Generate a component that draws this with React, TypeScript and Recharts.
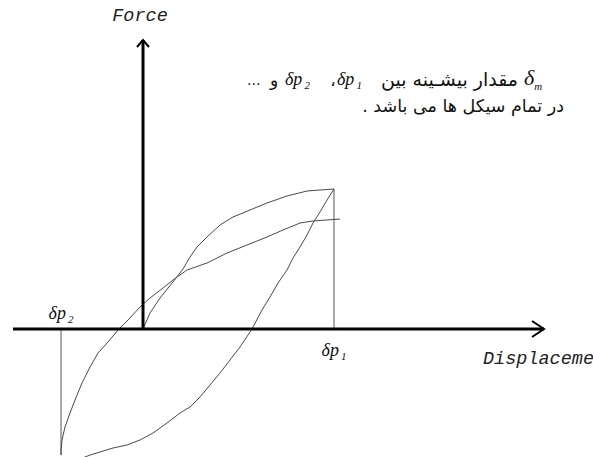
import { Customized, Line, LineChart, ReferenceLine, XAxis, YAxis } from "recharts"

// hysteresis loop (displacement / force in arbitrary units)
const loadingDisp = [0, 3.5, 8.5, 15, 20, 23.5, 27, 32, 38.5, 45, 53.5, 62, 72, 82, 88.5, 95.5]
const loadingForce = [0, 8, 15.5, 23.5, 30, 36, 41, 46, 52, 56, 59.5, 63, 66.5, 69, 69.5, 70]

const unloadingDisp = [
  95.5, 92, 88.5, 85, 82, 78.5, 75, 72, 67.5, 63.5, 59.5, 54.5, 51.5, 48.5, 43.5, 38.5, 33.5, 28.5, 23.5,
  18.5, 12, 5, -1.5, -8, -15, -21.5, -26.5, -34, -40.5,
]
const unloadingForce = [
  70, 64.5, 58.5, 53, 47, 41, 35.5, 29.5, 23, 16, 9.5, 0, -4.5, -9, -15.5, -22, -28, -34, -39, -42, -47, -52,
  -55.5, -58, -59.5, -61.5, -63, -66, -68.5,
]

const reloadingDisp = [
  -41, -41, -40.5, -39, -36.5, -34, -30.5, -26.5, -22.5, -17.5, -12.5, -7.5, -1.5, 3.5, 10, 15, 22, 32, 42, 52,
  62, 70, 78.5, 85, 98.5,
]
const reloadingForce = [
  -65.5, -60.5, -55.5, -49, -42, -35.5, -27, -19, -12, -6.5, -0.5, 4.5, 11, 15.5, 20.5, 24.5, 29.5, 33, 38, 42,
  46, 49.5, 53, 54, 55,
]

const deltaP1 = 95.5
const deltaP2 = -41
const peakForce = 70

const xAxisStart = -65
const xAxisEnd = 200.5
const yAxisEnd = 144.5

const noteLine1Words = "مقدار بیشـینه بین"
const noteLine2 = "در تمام سیکل ها می باشد .\u200F"

const zip = (xs: number[], ys: number[]) => xs.map((x, i) => ({ x, f: ys[i] }))

const loading = zip(loadingDisp, loadingForce)
const unloading = zip(unloadingDisp, unloadingForce)
const reloading = zip(reloadingDisp, reloadingForce)

const curveColor = "#4a4a4a"
const monoFont = "'Liberation Mono', monospace"
const serifFont = "'Liberation Serif', serif"
const arabicFont = "'DejaVu Sans', sans-serif"

function arrowAxis(kind: "x" | "y") {
  return (props: any) => {
    const { x1, y1, x2, y2 } = props
    const len = Math.hypot(x2 - x1, y2 - y1)
    const ux = (x2 - x1) / len
    const uy = (y2 - y1) / len
    const back = kind === "x" ? 12 : 7
    const side = kind === "x" ? 8 : 6
    const bx = x2 - ux * back
    const by = y2 - uy * back
    return (
      <g>
        <line x1={x1} y1={y1} x2={x2} y2={y2} stroke="#000" strokeWidth={3} />
        <polyline
          points={`${bx - uy * side},${by + ux * side} ${x2},${y2} ${bx + uy * side},${by - ux * side}`}
          fill="none"
          stroke="#000"
          strokeWidth={2}
        />
        {kind === "x" ? (
          <text x={x2 - 61} y={y2 + 35} fontFamily={monoFont} fontStyle="italic" fontSize={18.5} fill="#222">
            Displacement
          </text>
        ) : (
          <text x={x2 - 3} y={y2 - 19} fontFamily={monoFont} fontStyle="italic" fontSize={18.5} fill="#222" textAnchor="middle">
            Force
          </text>
        )}
      </g>
    )
  }
}

function DeltaP({ x, y, sub, anchor = "middle" }: { x: number; y: number; sub: string; anchor?: string }) {
  return (
    <text x={x} y={y} fontFamily={serifFont} fontStyle="italic" fontSize={18} fill="#111" textAnchor={anchor}>
      <tspan>δp</tspan>
      <tspan fontSize={11} dy={4} dx={2}>
        {sub}
      </tspan>
    </text>
  )
}

function peakLine(sub: string, below: boolean) {
  return (props: any) => {
    const { x1, y1, x2, y2 } = props
    return (
      <g>
        <line x1={x1} y1={y1} x2={x2} y2={y2} stroke="#555" strokeWidth={1} />
        <DeltaP x={x1} y={below ? y1 + 27 : y1 - 10} sub={sub} />
      </g>
    )
  }
}

function Note() {
  return (
    <g fill="#111">
      <text x={524} y={85} fontFamily={serifFont} fontStyle="italic" fontSize={22}>
        <tspan>δ</tspan>
        <tspan fontSize={11} dy={5}>
          m
        </tspan>
      </text>
      <text x={518} y={86} fontFamily={arabicFont} fontSize={19} textAnchor="end">
        {noteLine1Words}
      </text>
      <DeltaP x={337} y={85} sub="1" anchor="start" />
      <text x={333} y={86} fontFamily={arabicFont} fontSize={17} textAnchor="middle">
        ،
      </text>
      <DeltaP x={285} y={85} sub="2" anchor="start" />
      <text x={274} y={86} fontFamily={arabicFont} fontSize={17} textAnchor="middle">
        و
      </text>
      <text x={247} y={85} fontFamily={arabicFont} fontSize={14}>
        ...
      </text>
      <text x={564} y={112} fontFamily={arabicFont} fontSize={17.5} textAnchor="end">
        {noteLine2}
      </text>
    </g>
  )
}

export default function App() {
  return (
    <div style={{ position: "absolute", left: 0, top: 0, width: 593, height: 457, overflow: "hidden", background: "#fff" }}>
      <LineChart width={593} height={457} margin={{ top: 0, right: 0, bottom: 0, left: 0 }}>
        <XAxis type="number" dataKey="x" domain={[-71.5, 225]} allowDataOverflow hide />
        <YAxis type="number" dataKey="f" domain={[-64, 164.5]} allowDataOverflow hide />
        <ReferenceLine
          segment={[{ x: deltaP1, y: 0 }, { x: deltaP1, y: peakForce }]}
          shape={peakLine("1", true)}
          ifOverflow="visible"
        />
        <ReferenceLine
          segment={[{ x: deltaP2, y: 0 }, { x: deltaP2, y: -64 }]}
          shape={peakLine("2", false)}
          ifOverflow="visible"
        />
        <Line data={loading} dataKey="f" type="linear" stroke={curveColor} strokeWidth={1} dot={false} isAnimationActive={false} />
        <Line data={unloading} dataKey="f" type="linear" stroke={curveColor} strokeWidth={1} dot={false} isAnimationActive={false} />
        <Line data={reloading} dataKey="f" type="linear" stroke={curveColor} strokeWidth={1} dot={false} isAnimationActive={false} />
        <ReferenceLine
          segment={[{ x: xAxisStart, y: 0 }, { x: xAxisEnd, y: 0 }]}
          shape={arrowAxis("x")}
          ifOverflow="visible"
        />
        <ReferenceLine
          segment={[{ x: 0, y: 0 }, { x: 0, y: yAxisEnd }]}
          shape={arrowAxis("y")}
          ifOverflow="visible"
        />
        <Customized component={<Note />} />
      </LineChart>
    </div>
  )
}
